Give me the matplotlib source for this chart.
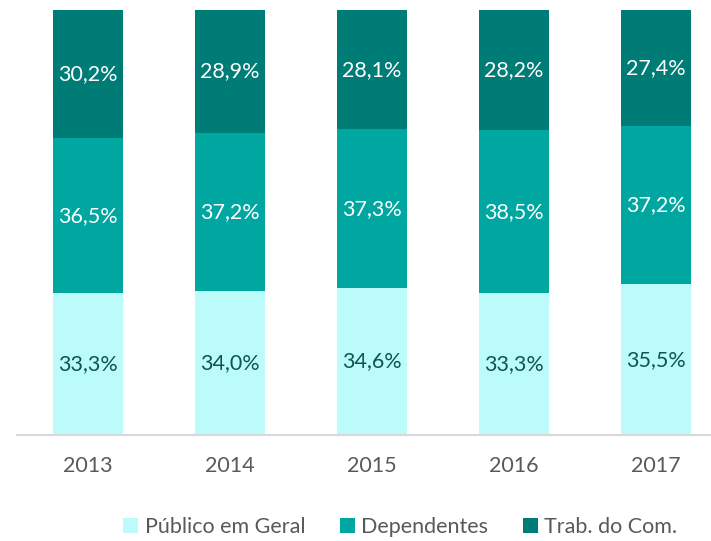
import numpy as np
import matplotlib.pyplot as plt

years = ['2013', '2014', '2015', '2016', '2017']
publico = [33.3, 34.0, 34.6, 33.3, 35.5]
dependentes = [36.5, 37.2, 37.3, 38.5, 37.2]
trab = [30.2, 28.9, 28.1, 28.2, 27.4]

series = ['Público em Geral', 'Dependentes', 'Trab. do Com.']
colors = ['#BBFCFA', '#00A6A0', '#007C77']
text_colors = ['#0E5550', 'white', 'white']

plt.rcParams['font.family'] = ['Lato', 'DejaVu Sans']

fig = plt.figure(figsize=(7.11, 5.41), dpi=100)
ax = fig.add_axes([17 / 711, 1 - 435 / 541, 694 / 711, 425 / 541])

x = np.arange(len(years))
data = np.array([publico, dependentes, trab])
# 100% stacked, like Excel
norm = data / data.sum(axis=0) * 100
bottom = np.zeros(len(years))
for i, name in enumerate(series):
    ax.bar(x, norm[i], 0.493, bottom=bottom, color=colors[i], label=name)
    for j in range(len(years)):
        ax.text(x[j], bottom[j] + norm[i][j] / 2, ('%.1f%%' % data[i][j]).replace('.', ','),
                ha='center', va='center', fontsize=15.5, color=text_colors[i])
    bottom += norm[i]

ax.set_xlim(-0.5, (711 - 88) / 142)
ax.set_ylim(0, 100)
ax.set_yticks([])
ax.set_xticks(x)
ax.set_xticklabels(years, fontsize=15.5, color='#595959')
ax.tick_params(axis='x', length=0, pad=15)
for s in ['top', 'right', 'left']:
    ax.spines[s].set_visible(False)
ax.spines['bottom'].set_color('#D9D9D9')
ax.spines['bottom'].set_linewidth(1.5)

fig.legend(loc='lower center', bbox_to_anchor=(0.563, -0.028), ncol=3, frameon=False,
           fontsize=15.5, labelcolor='#595959', handlelength=0.7, handleheight=0.7,
           handletextpad=0.3, columnspacing=1.6)

fig.savefig('out.png', dpi=100)
